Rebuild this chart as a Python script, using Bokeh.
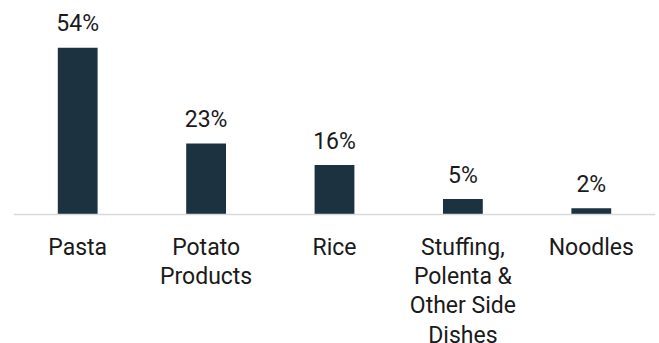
from bokeh.plotting import figure
from bokeh.models import ColumnDataSource, Range1d, FactorRange
from bokeh.core.properties import value
from bokeh.embed import file_html
from bokeh.resources import INLINE

categories = ["Pasta", "Potato\nProducts", "Rice", "Stuffing,\nPolenta &\nOther Side\nDishes", "Noodles"]
shares = [54, 23, 16, 5, 2]
share_labels = ["54%", "23%", "16%", "5%", "2%"]

src = ColumnDataSource(dict(cat=categories, v=shares, lab=share_labels, zero=[0] * len(shares)))

p = figure(width=659, height=343, output_backend="svg", toolbar_location=None,
           x_range=FactorRange(factors=categories, range_padding=0),
           y_range=Range1d(-41.75, 69.26),
           min_border_left=13, min_border_right=4, min_border_top=0, min_border_bottom=0)
p.axis.visible = False
p.grid.visible = False
p.outline_line_color = None
p.background_fill_color = "white"
p.border_fill_color = "white"

p.vbar(x="cat", top="v", bottom=0, width=0.31, source=src, fill_color="#1c3241", line_color=None)
p.hspan(y=[0], line_color="#d9d9d9", line_width=1.5)

p.text(x="cat", y="v", text="lab", source=src, text_align="center", text_baseline="alphabetic",
       y_offset=-24, text_font=value("Roboto"), text_font_size="23px", text_color="#1a1a1a")
p.text(x="cat", y="zero", text="cat", source=src, text_align="center", text_baseline="top",
       y_offset=19, text_font=value("Roboto"), text_font_size="23px", text_color="#1a1a1a",
       text_line_height=1.09)

open("out.html", "w").write(file_html(p, INLINE))
